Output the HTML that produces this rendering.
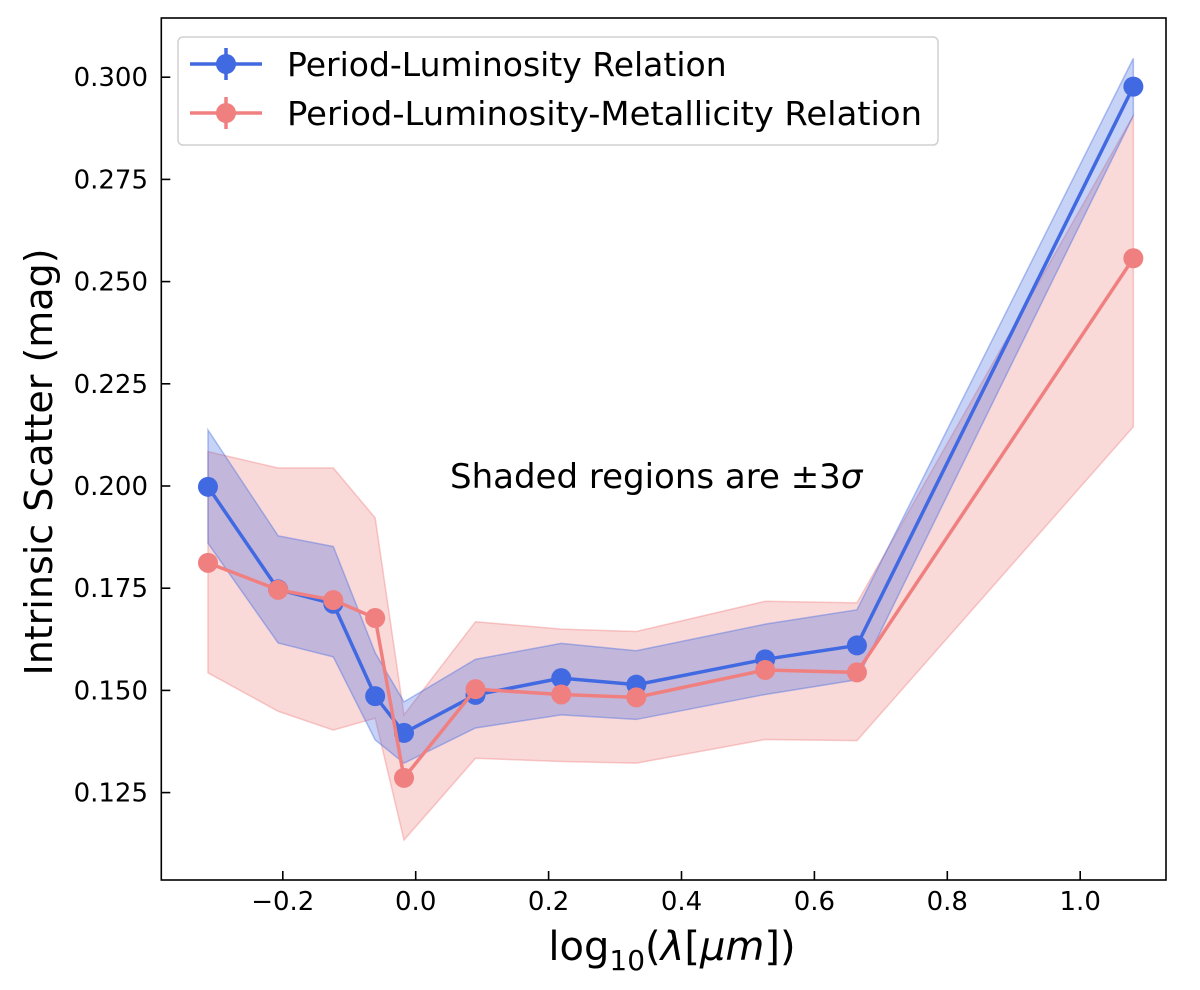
<!DOCTYPE html>
<html><head><meta charset="utf-8"><style>
html,body{margin:0;padding:0;background:#fff;}
svg{display:block;font-family:"DejaVu Sans","Liberation Sans",sans-serif;}
</style></head><body>
<svg id="chart" width="1200" height="990" viewBox="0 0 1200 990" xmlns="http://www.w3.org/2000/svg">
<g id="bands"></g>
<g id="lines"></g>
<rect x="161.3" y="18" width="1004.7" height="862" fill="none" stroke="#000" stroke-width="1.6"/>
<g id="ticks"></g>
<text x="450" y="488" font-size="34">Shaded regions are ±3<tspan font-style="italic">σ</tspan></text>
<text transform="translate(52,462) rotate(-90)" font-size="38" text-anchor="middle">Intrinsic Scatter (mag)</text>
<text x="672" y="960" font-size="40" text-anchor="middle">log<tspan font-size="28" dy="10">10</tspan><tspan dy="-10">(</tspan><tspan font-style="italic">λ</tspan>[<tspan font-style="italic">μm</tspan>])</text>
<g>
<rect x="178" y="37" width="760" height="108" rx="5" fill="#fff" fill-opacity="0.8" stroke="#d0d0d0" stroke-width="1.5"/>
<g>
<line x1="190" y1="64" x2="262" y2="64" stroke="#4169e1" stroke-width="3.5"/>
<line x1="226" y1="48" x2="226" y2="80" stroke="#4169e1" stroke-width="3.5"/>
<circle cx="226" cy="64" r="10" fill="#4169e1"/>
<text x="287" y="76" font-size="33">Period-Luminosity Relation</text>
</g>
<g>
<line x1="190" y1="113" x2="262" y2="113" stroke="#f08080" stroke-width="3.5"/>
<line x1="226" y1="97" x2="226" y2="129" stroke="#f08080" stroke-width="3.5"/>
<circle cx="226" cy="113" r="10" fill="#f08080"/>
<text x="287" y="125" font-size="33" textLength="635" lengthAdjust="spacingAndGlyphs">Period-Luminosity-Metallicity Relation</text>
</g>
</g>
</svg>
<script>
const xVals = [-0.3126, -0.207, -0.124, -0.061, -0.0176, 0.09, 0.219, 0.332, 0.526, 0.664, 1.08];
const plVals = [0.1998, 0.1747, 0.1712, 0.1486, 0.1396, 0.1489, 0.1530, 0.1514, 0.1576, 0.1610, 0.2977];
const plUpper = [0.2137, 0.1878, 0.1852, 0.1592, 0.1472, 0.1576, 0.1615, 0.1597, 0.1662, 0.1697, 0.3046];
const plLower = [0.1860, 0.1616, 0.1582, 0.1379, 0.1322, 0.1408, 0.1440, 0.1429, 0.1490, 0.1526, 0.2906];
const plzVals = [0.1812, 0.1746, 0.1721, 0.1677, 0.1286, 0.1503, 0.1490, 0.1483, 0.1550, 0.1544, 0.2557];
const plzUpper = [0.2084, 0.2044, 0.2044, 0.1922, 0.1440, 0.1668, 0.1650, 0.1644, 0.1718, 0.1714, 0.2906];
const plzLower = [0.1543, 0.1449, 0.1403, 0.1432, 0.1134, 0.1334, 0.1326, 0.1322, 0.1380, 0.1377, 0.2145];
const xTicks = [-0.2, 0.0, 0.2, 0.4, 0.6, 0.8, 1.0];
const xTickLabels = ["−0.2", "0.0", "0.2", "0.4", "0.6", "0.8", "1.0"];
const yTicks = [0.125, 0.150, 0.175, 0.200, 0.225, 0.250, 0.275, 0.300];
const yTickLabels = ["0.125", "0.150", "0.175", "0.200", "0.225", "0.250", "0.275", "0.300"];

const NS = "http://www.w3.org/2000/svg";
const X = v => 415.7 + v * 664.5;
const Y = v => 486 - (v - 0.2) * 4088;
function mk(tag, attrs, parent) {
  const el = document.createElementNS(NS, tag);
  for (const k in attrs) el.setAttribute(k, attrs[k]);
  parent.appendChild(el);
  return el;
}
const bands = document.getElementById('bands');
const lines = document.getElementById('lines');
const ticks = document.getElementById('ticks');

function band(upper, lower, color, name) {
  const pts = xVals.map((x, i) => X(x) + ',' + Y(upper[i]));
  for (let i = xVals.length - 1; i >= 0; i--) pts.push(X(xVals[i]) + ',' + Y(lower[i]));
  const p = mk('polygon', {points: pts.join(' '), fill: color, 'fill-opacity': 0.3, stroke: color, 'stroke-opacity': 0.4, 'stroke-width': 1.5}, bands);
  
  
}
band(plzUpper, plzLower, '#f08080', 'plz-band');
band(plUpper, plLower, '#4169e1', 'pl-band');

function series(vals, color, name) {
  const pl = mk('polyline', {points: xVals.map((x, i) => X(x) + ',' + Y(vals[i])).join(' '), fill: 'none', stroke: color, 'stroke-width': 3.5}, lines);
  
  
  xVals.forEach((x, i) => {
    const c = mk('circle', {cx: X(x), cy: Y(vals[i]), r: 10, fill: color}, lines);
    
    
  });
}
series(plVals, '#4169e1', 'pl');
series(plzVals, '#f08080', 'plz');

xTicks.forEach((t, i) => {
  const l = mk('line', {x1: X(t), x2: X(t), y1: 880, y2: 871, stroke: '#000', 'stroke-width': 1.6}, ticks);
  
  
  const tx = mk('text', {x: X(t), y: 910, 'font-size': 26, 'text-anchor': 'middle'}, ticks);
  
  
  tx.textContent = xTickLabels[i];
});
yTicks.forEach((t, i) => {
  const l = mk('line', {x1: 161.3, x2: 170.3, y1: Y(t), y2: Y(t), stroke: '#000', 'stroke-width': 1.6}, ticks);
  
  
  const tx = mk('text', {x: 148, y: Y(t) + 9, 'font-size': 26, 'text-anchor': 'end'}, ticks);
  
  
  tx.textContent = yTickLabels[i];
});
</script>
</body></html>
